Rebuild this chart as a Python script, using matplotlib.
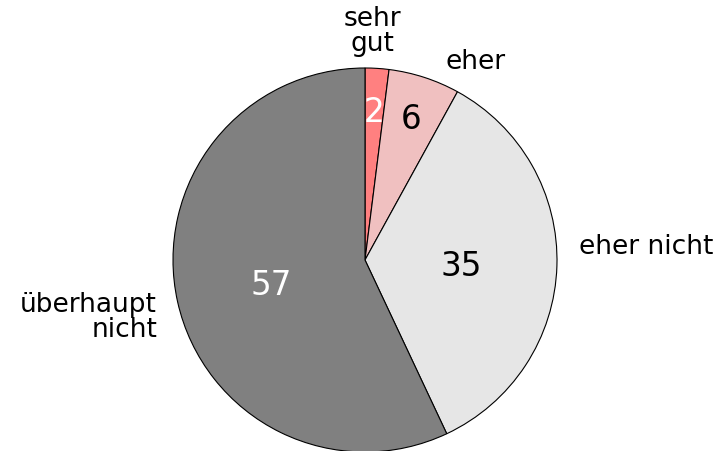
import numpy as np
import matplotlib.pyplot as plt

categories = ['sehr\ngut', 'eher', 'eher nicht', 'überhaupt\nnicht']
values = [2, 6, 35, 57]
colors = ['#ff8080', '#f0c0c0', '#e6e6e6', '#808080']
value_colors = ['white', 'black', 'black', 'white']

# where the category names and the numbers go (data units, radius = 1)
name_xy = [(0.04, 1.19), (0.417, 1.03), (1.115, 0.068), (-1.083, -0.302)]
name_ha = ['center', 'left', 'left', 'right']
value_dist = [0.77, 0.77, 0.5, 0.5]
value_dy = [0, 0, -0.02, -0.025]

fig = plt.figure(figsize=(7.22, 4.51), dpi=100)
ax = fig.add_axes([173 / 722, -1 / 451, 384 / 722, 384 / 451])

wedges, _ = ax.pie(values, colors=colors, startangle=90, counterclock=False,
                   radius=1, wedgeprops=dict(edgecolor='black', linewidth=0.8))
ax.set_xlim(-1, 1)
ax.set_ylim(-1, 1)
ax.set_aspect('equal')
ax.axis('off')

for w, v, c, d, dy in zip(wedges, values, value_colors, value_dist, value_dy):
    mid = np.deg2rad((w.theta1 + w.theta2) / 2)
    ax.text(d * np.cos(mid), d * np.sin(mid) + dy, str(v), ha='center', va='center',
            fontsize=23.5, color=c)

for name, (x, y), ha in zip(categories, name_xy, name_ha):
    ax.text(x, y, name, ha=ha, va='center', multialignment=ha,
            fontsize=19, linespacing=0.95, clip_on=False)

fig.savefig('out.png', dpi=100)
